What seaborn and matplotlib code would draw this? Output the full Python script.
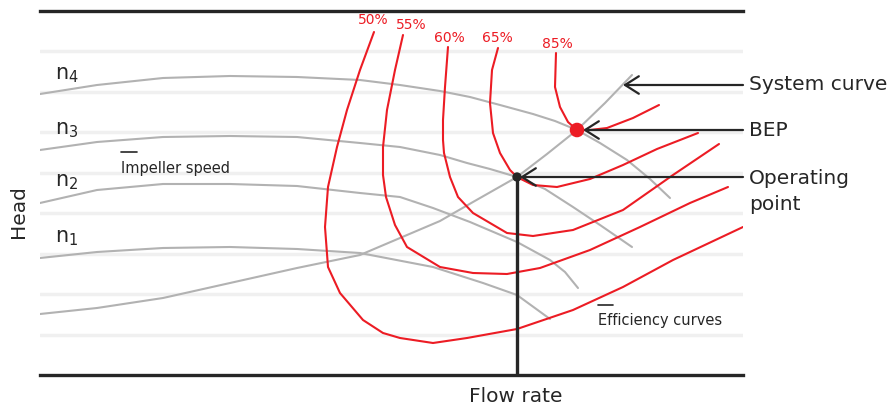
import numpy as np
import pandas as pd
import matplotlib
matplotlib.use("Agg")
import matplotlib.pyplot as plt
import seaborn as sns

# -------------------------------------------------
# Data (flow / head in chart units)
# -------------------------------------------------
pump_n4_flow = [0, 57, 123, 190, 257, 320, 360, 400, 430, 460, 493, 515, 537, 560, 587, 610, 630]
pump_n4_head = [281, 290, 297, 299, 298, 295, 290, 284, 278, 270, 261, 254, 245, 232, 215, 196, 177]

pump_n3_flow = [0, 57, 123, 190, 257, 320, 360, 400, 427, 450, 477, 505, 533, 560, 592]
pump_n3_head = [225, 233, 238, 239, 238, 232, 228, 220, 212, 206, 198, 186, 168, 150, 128]

pump_n2_flow = [0, 57, 123, 190, 257, 320, 360, 393, 430, 477, 510, 525, 538]
pump_n2_head = [172, 185, 191, 191, 189, 182, 178, 167, 153, 133, 115, 103, 87]

pump_n1_flow = [0, 57, 123, 190, 257, 320, 393, 443, 477, 510]
pump_n1_head = [117, 123, 127, 128, 126, 122, 108, 92, 80, 56]

system_flow = [0, 57, 123, 190, 257, 320, 400, 433, 477, 507, 537, 565, 592]
system_head = [61, 67, 77, 92, 107, 120, 154, 173, 198, 221, 245, 272, 300]

eff50_flow = [334, 320, 307, 297, 288, 285, 288, 300, 323, 343, 360, 393, 427, 477, 533, 583, 633, 703]
eff50_head = [343, 305, 265, 228, 188, 148, 108, 82, 55, 42, 37, 32, 37, 46, 65, 88, 115, 148]

eff55_flow = [363, 355, 347, 343, 343, 346, 355, 367, 400, 433, 467, 500, 550, 600, 650, 688]
eff55_head = [340, 305, 265, 228, 200, 178, 150, 128, 108, 102, 101, 107, 125, 148, 172, 188]

eff60_flow = [408, 405, 403, 403, 404, 410, 418, 433, 467, 493, 533, 583, 633, 679]
eff60_head = [328, 288, 255, 235, 222, 198, 178, 162, 142, 139, 145, 165, 200, 231]

eff65_flow = [458, 452, 450, 453, 460, 470, 477, 493, 517, 550, 583, 617, 658]
eff65_head = [327, 305, 272, 242, 222, 205, 198, 190, 188, 196, 210, 226, 242]

eff85_flow = [516, 515, 520, 528, 537, 550, 567, 593, 619]
eff85_head = [322, 288, 268, 253, 245, 245, 247, 257, 270]

eff_labels = ["50%", "55%", "60%", "65%", "85%"]
eff_label_flow = [333, 371, 409, 457, 517]
eff_label_head = [355, 350, 337, 337, 331]

speed_labels = [r"n$_\mathregular{4}$", r"n$_\mathregular{3}$",
                r"n$_\mathregular{2}$", r"n$_\mathregular{1}$"]
speed_label_head = [300, 245, 193, 137]

operating_point = (477, 198)
bep_point = (537, 245)

# -------------------------------------------------
# Styling
# -------------------------------------------------
sns.set_theme(style="white")
plt.rcParams["font.family"] = ["DejaVu Sans"]
plt.rcParams["mathtext.default"] = "regular"

RED = "#ec1c24"
GRAY = "#b2b2b2"
INK = "#262626"
GRID = "#f0f0f0"

fig = plt.figure(figsize=(8.94, 4.07), dpi=100)
ax = fig.add_axes([40 / 894, 32 / 407, 703 / 894, 364 / 407])
ax.set_xlim(0, 703)
ax.set_ylim(0, 364)

# grid bands
ax.set_yticks(np.arange(1, 9) * 364 / 9)
ax.set_xticks([])
ax.tick_params(left=False, labelleft=False)
ax.grid(axis="y", color=GRID, lw=2.5)
ax.set_axisbelow(True)

for side in ["left", "right"]:
    ax.spines[side].set_visible(False)
for side in ["top", "bottom"]:
    ax.spines[side].set_color(INK)
    ax.spines[side].set_linewidth(2.4)

# pump curves + system curve (gray)
for fx, hy in [
    (pump_n4_flow, pump_n4_head),
    (pump_n3_flow, pump_n3_head),
    (pump_n2_flow, pump_n2_head),
    (pump_n1_flow, pump_n1_head),
    (system_flow, system_head),
]:
    sns.lineplot(x=fx, y=hy, sort=False, estimator=None, color=GRAY, lw=1.5, ax=ax, zorder=2)

# efficiency curves (red)
for fx, hy in [
    (eff50_flow, eff50_head),
    (eff55_flow, eff55_head),
    (eff60_flow, eff60_head),
    (eff65_flow, eff65_head),
    (eff85_flow, eff85_head),
]:
    sns.lineplot(x=fx, y=hy, sort=False, estimator=None, color=RED, lw=1.5, ax=ax, zorder=3)

for lab, fx, hy in zip(eff_labels, eff_label_flow, eff_label_head):
    ax.text(fx, hy, lab, color=RED, fontsize=10, ha="center", va="center")

# operating point drop line
ax.vlines(operating_point[0], 0, operating_point[1], color=INK, lw=2.4, zorder=4)

sns.scatterplot(x=[operating_point[0]], y=[operating_point[1]], color=INK, s=45,
                edgecolor="none", ax=ax, zorder=6)
sns.scatterplot(x=[bep_point[0]], y=[bep_point[1]], color=RED, s=110,
                edgecolor="none", ax=ax, zorder=6)

# callouts on the right
arrow_kw = dict(arrowstyle="->,head_length=0.55,head_width=0.35", color=INK,
                lw=1.6, mutation_scale=18, shrinkA=0, shrinkB=0)
ax.annotate("", xy=(583, 290), xytext=(703, 290), arrowprops=arrow_kw, zorder=5)
ax.annotate("", xy=(543, 245), xytext=(703, 245), arrowprops=arrow_kw, zorder=5)
ax.annotate("", xy=(480, 198), xytext=(703, 198), arrowprops=arrow_kw, zorder=5)

txt_kw = dict(color=INK, fontsize=14.5, ha="left", va="center", clip_on=False)
ax.text(709, 290, "System curve", **txt_kw)
ax.text(709, 245, "BEP", **txt_kw)
ax.text(709, 197, "Operating", **txt_kw)
ax.text(709, 170, "point", **txt_kw)

# speed labels
for lab, hy in zip(speed_labels, speed_label_head):
    ax.text(15, hy, lab, color=INK, fontsize=15, ha="left", va="center")

# small captions with a dash above
ax.plot([81, 97], [223, 223], color=INK, lw=1.2)
ax.text(81, 207, "Impeller speed", color=INK, fontsize=10.5, ha="left", va="center")
ax.plot([558, 573], [70, 70], color=INK, lw=1.2)
ax.text(558, 54, "Efficiency curves", color=INK, fontsize=10.5, ha="left", va="center")

ax.set_xlabel("")
ax.set_ylabel("")
fig.text(516 / 894, 1 - 396 / 407, "Flow rate", color=INK, fontsize=14.5, ha="center", va="center")
fig.text(18 / 894, 1 - 212 / 407, "Head", color=INK, fontsize=14.5, ha="center", va="center",
         rotation=90)

fig.savefig("out.png", dpi=100)
plt.close(fig)
